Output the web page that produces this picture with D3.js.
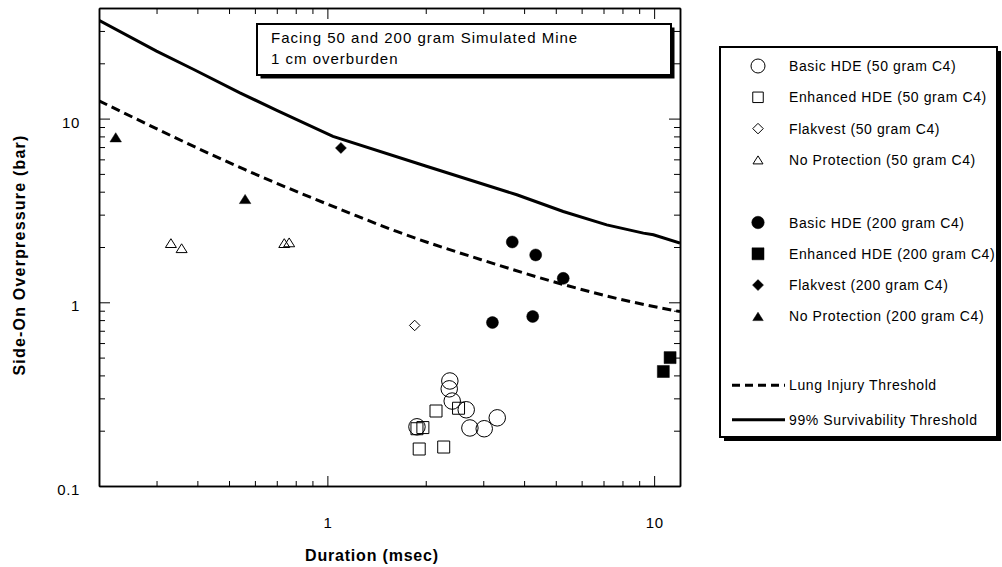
<!DOCTYPE html>
<html>
<head>
<meta charset="utf-8">
<script src="https://d3js.org/d3.v7.min.js"></script>
<style>
  body { margin: 0; background: #fff; }
  svg { display: block; font-family: "Liberation Sans", Arial, sans-serif; }
</style>
</head>
<body>
<svg id="chart" width="1002" height="567"></svg>
<script>
// [duration msec, side-on overpressure bar]
const basicHDE50 = [[2.37, 0.373], [2.36, 0.338], [2.41, 0.29], [2.66, 0.26], [2.73, 0.207], [3.02, 0.205], [3.31, 0.235], [1.88, 0.21]];
const enhancedHDE50 = [[2.15, 0.256], [2.52, 0.265], [1.88, 0.205], [1.96, 0.208], [1.91, 0.159], [2.27, 0.163]];
const flakvest50 = [[1.85, 0.748]];
const noProtection50 = [[0.332, 2.10], [0.358, 1.97], [0.738, 2.10], [0.764, 2.12]];
const basicHDE200 = [[3.68, 2.13], [4.34, 1.81], [5.27, 1.35], [3.20, 0.776], [4.25, 0.837]];
const enhancedHDE200 = [[11.19, 0.50], [10.67, 0.42]];
const flakvest200 = [[1.10, 6.92]];
const noProtection200 = [[0.225, 7.91], [0.56, 3.65]];

const lungInjury = [[0.2, 12.5], [0.56, 5.27], [1.17, 3.06], [1.63, 2.43], [3.07, 1.67], [5.27, 1.25], [8.44, 1.01], [12, 0.89]];
const survivability = [[0.2, 34.3], [0.3, 23.3], [0.39, 18.5], [0.54, 13.8], [0.7, 11.1], [1.04, 8.0], [2.01, 5.5], [3.8, 3.85], [5.27, 3.12], [7.16, 2.64], [9.27, 2.38], [9.95, 2.33], [12, 2.1]];

const xMajorTicks = [1, 10];
const xMinorTicks = [0.3, 0.4, 0.5, 0.6, 0.7, 0.8, 0.9, 2, 3, 4, 5, 6, 7, 8, 9];
const yMajorTicks = [0.1, 1, 10];
const yMinorTicks = [0.2, 0.3, 0.4, 0.5, 0.6, 0.7, 0.8, 0.9, 2, 3, 4, 5, 6, 7, 8, 9, 20, 30];

const titleLines = ['Facing 50 and 200 gram Simulated Mine', '1 cm overburden'];
const xTitle = 'Duration (msec)';
const yTitle = 'Side-On Overpressure (bar)';

// table of series used for marks and legend
const series = [
  { label: 'Basic HDE (50 gram C4)', data: basicHDE50, shape: 'circle', filled: false, size: 16.5, legendSize: 14 },
  { label: 'Enhanced HDE (50 gram C4)', data: enhancedHDE50, shape: 'square', filled: false, size: 12, legendSize: 10.5 },
  { label: 'Flakvest (50 gram C4)', data: flakvest50, shape: 'diamond', filled: false, size: 10.5, legendSize: 10.5 },
  { label: 'No Protection (50 gram C4)', data: noProtection50, shape: 'triangle', filled: false, size: 11, legendSize: 10 },
  { label: 'Basic HDE (200 gram C4)', data: basicHDE200, shape: 'circle', filled: true, size: 12, legendSize: 12.5 },
  { label: 'Enhanced HDE (200 gram C4)', data: enhancedHDE200, shape: 'square', filled: true, size: 12, legendSize: 12 },
  { label: 'Flakvest (200 gram C4)', data: flakvest200, shape: 'diamond', filled: true, size: 11, legendSize: 11 },
  { label: 'No Protection (200 gram C4)', data: noProtection200, shape: 'triangle', filled: true, size: 11.5, legendSize: 10.5 },
];
const lines = [
  { label: 'Lung Injury Threshold', data: lungInjury, dash: '9,5', curve: d3.curveMonotoneX },
  { label: '99% Survivability Threshold', data: survivability, dash: null, curve: d3.curveLinear },
];

const svg = d3.select('svg#chart');
const plot = { left: 99, right: 680, top: 8, bottom: 486 };

const xScale = d3.scaleLog().domain([0.2, 12]).range([plot.left, plot.right]);
const yScale = d3.scaleLog().domain([0.1, 40]).range([plot.bottom, plot.top]);

// marker shapes centred on 0,0
function markerPath(shape, s) {
  const h = s / 2;
  if (shape === 'circle') return d3.symbol(d3.symbolCircle, Math.PI * h * h)();
  if (shape === 'square') return `M${-h},${-h}h${s}v${s}h${-s}Z`;
  if (shape === 'diamond') return `M0,${-h}L${h},0L0,${h}L${-h},0Z`;
  const t = s * 0.4;
  return `M0,${-t}L${h},${t}L${-h},${t}Z`;
}

// axes: ticks point inward on all four sides
const axisStyle = (g) => {
  g.selectAll('.domain').attr('stroke', '#000').attr('stroke-width', 1.5);
  g.selectAll('.tick line').attr('stroke', '#000').attr('stroke-width', 1);
};

svg.append('g').attr('transform', `translate(0,${plot.bottom})`)
  .call(d3.axisBottom(xScale).tickValues(xMinorTicks).tickSize(-5).tickSizeOuter(0).tickFormat(''))
  .call(axisStyle);
svg.append('g').attr('transform', `translate(0,${plot.bottom})`)
  .call(d3.axisBottom(xScale).tickValues(xMajorTicks).tickSize(-10).tickSizeOuter(0).tickPadding(31).tickFormat(d3.format('d')))
  .call(axisStyle);
svg.append('g').attr('transform', `translate(0,${plot.top})`)
  .call(d3.axisTop(xScale).tickValues(xMinorTicks).tickSize(-6).tickSizeOuter(0).tickFormat(''))
  .call(axisStyle);
svg.append('g').attr('transform', `translate(0,${plot.top})`)
  .call(d3.axisTop(xScale).tickValues(xMajorTicks).tickSize(-11).tickSizeOuter(0).tickFormat(''))
  .call(axisStyle);

svg.append('g').attr('transform', `translate(${plot.left},0)`)
  .call(d3.axisLeft(yScale).tickValues(yMinorTicks).tickSize(-6).tickSizeOuter(0).tickFormat(''))
  .call(axisStyle);
svg.append('g').attr('transform', `translate(${plot.left},0)`)
  .call(d3.axisLeft(yScale).tickValues(yMajorTicks).tickSize(-11).tickSizeOuter(0).tickPadding(19).tickFormat((d) => (d < 1 ? d3.format('.1f')(d) : d3.format('d')(d))))
  .call(axisStyle);
svg.append('g').attr('transform', `translate(${plot.right},0)`)
  .call(d3.axisRight(yScale).tickValues(yMinorTicks).tickSize(-6).tickSizeOuter(0).tickFormat(''))
  .call(axisStyle);
svg.append('g').attr('transform', `translate(${plot.right},0)`)
  .call(d3.axisRight(yScale).tickValues(yMajorTicks).tickSize(-11).tickSizeOuter(0).tickFormat(''))
  .call(axisStyle);

svg.selectAll('.tick text')
  .attr('font-family', '"Liberation Sans", Arial, sans-serif')
  .attr('font-size', 15)
  .attr('letter-spacing', 0.6)
  .attr('fill', '#000');
svg.selectAll('g').filter(function () { return this.getAttribute('transform') === `translate(${plot.left},0)`; })
  .selectAll('.tick text').attr('dy', '0.56em');

// axis titles
svg.append('text')
  .text(xTitle)
  .attr('x', 372)
  .attr('y', 561)
  .attr('text-anchor', 'middle')
  .attr('font-size', 16)
  .attr('font-weight', 'bold')
  .attr('letter-spacing', 0.8);

svg.append('text')
  .text(yTitle)
  .attr('transform', 'translate(25,255) rotate(-90)')
  .attr('text-anchor', 'middle')
  .attr('font-size', 16)
  .attr('font-weight', 'bold')
  .attr('letter-spacing', 1.2);

// threshold lines
svg.append('clipPath').attr('id', 'plotClip')
  .append('rect')
  .attr('x', plot.left).attr('y', plot.top)
  .attr('width', plot.right - plot.left).attr('height', plot.bottom - plot.top);

lines.forEach((ln) => {
  const lineFunction = d3.line()
    .x((d) => xScale(d[0]))
    .y((d) => yScale(d[1]))
    .curve(ln.curve);
  svg.append('path')
    .attr('d', lineFunction(ln.data))
    .attr('clip-path', 'url(#plotClip)')
    .attr('fill', 'none')
    .attr('stroke', '#000')
    .attr('stroke-width', 3)
    .attr('stroke-dasharray', ln.dash);
});

// data markers
series.forEach((s) => {
  svg.append('g')
    .selectAll('path')
    .data(s.data)
    .enter()
    .append('path')
    .attr('d', markerPath(s.shape, s.size))
    .attr('transform', (d) => `translate(${xScale(d[0])},${yScale(d[1])})`)
    .attr('fill', s.filled ? '#000' : 'none')
    .attr('stroke', '#000')
    .attr('stroke-width', s.filled ? 0.5 : 1);
});

// title box
const title = svg.append('g');
title.append('rect').attr('x', 260.5).attr('y', 27.5).attr('width', 414).attr('height', 51).attr('fill', '#000');
title.append('rect').attr('x', 257).attr('y', 24).attr('width', 414).attr('height', 51)
  .attr('fill', '#fff').attr('stroke', '#000').attr('stroke-width', 2);
title.selectAll('text')
  .data(titleLines)
  .enter()
  .append('text')
  .text((d) => d)
  .attr('x', 271)
  .attr('y', (d, i) => 43 + i * 21)
  .attr('font-size', 15)
  .attr('letter-spacing', 1);

// legend box
const legend = svg.append('g');
legend.append('rect').attr('x', 724).attr('y', 51).attr('width', 277).attr('height', 390).attr('fill', '#000');
legend.append('rect').attr('x', 720).attr('y', 47).attr('width', 277).attr('height', 390)
  .attr('fill', '#fff').attr('stroke', '#000').attr('stroke-width', 2);

const legendSlots = [0, 1, 2, 3, 5, 6, 7, 8, 10.2, 11.3];
const rowY = (slot) => 66 + slot * 31.3;

series.forEach((s, i) => {
  const y = rowY(legendSlots[i]);
  legend.append('path')
    .attr('d', markerPath(s.shape, s.legendSize))
    .attr('transform', `translate(758,${y})`)
    .attr('fill', s.filled ? '#000' : 'none')
    .attr('stroke', '#000')
    .attr('stroke-width', s.filled ? 0.5 : 1);
  legend.append('text')
    .text(s.label)
    .attr('x', 789)
    .attr('y', y + 5)
    .attr('font-size', 14)
    .attr('letter-spacing', 0.6);
});

lines.forEach((ln, i) => {
  const y = rowY(legendSlots[series.length + i]);
  legend.append('line')
    .attr('x1', 732).attr('x2', 785)
    .attr('y1', y).attr('y2', y)
    .attr('stroke', '#000')
    .attr('stroke-width', 3)
    .attr('stroke-dasharray', ln.dash ? '8,5' : null);
  legend.append('text')
    .text(ln.label)
    .attr('x', 789)
    .attr('y', y + 5)
    .attr('font-size', 14)
    .attr('letter-spacing', 0.6);
});
</script>
</body>
</html>
